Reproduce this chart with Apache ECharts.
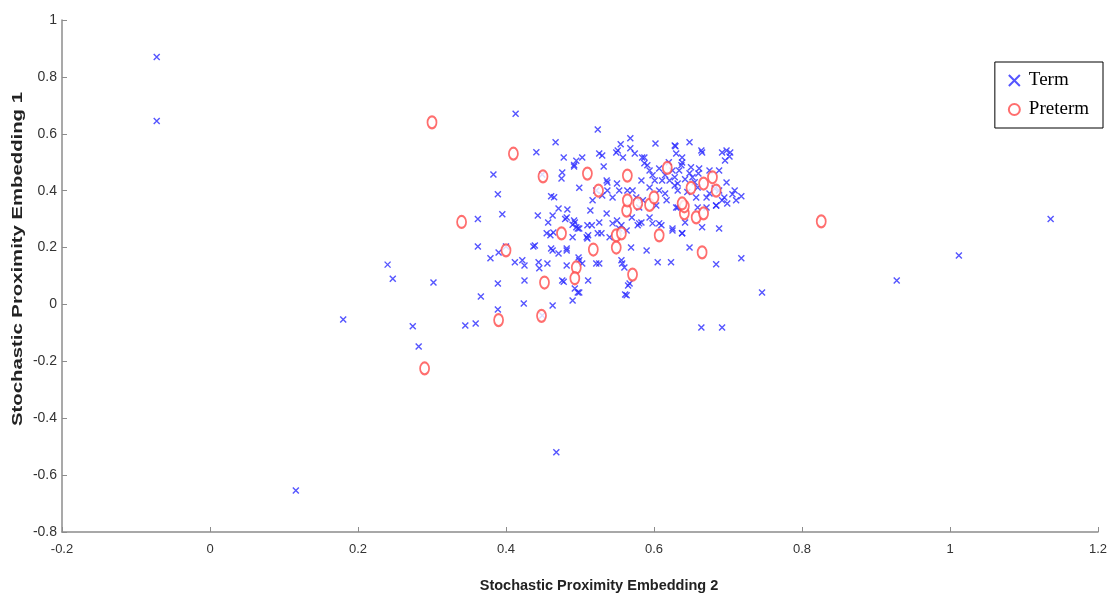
<!DOCTYPE html>
<html>
<head>
<meta charset="utf-8">
<script src="https://cdn.jsdelivr.net/npm/echarts@6/dist/echarts.min.js"></script>
<style>
html,body{margin:0;padding:0;background:#fff;}
#chart{width:1107px;height:593px;}
</style>
</head>
<body>
<div id="chart"></div>
<script>
const xTicks = [-0.2, 0, 0.2, 0.4, 0.6, 0.8, 1, 1.2];
const yTicks = [-0.8, -0.6, -0.4, -0.2, 0, 0.2, 0.4, 0.6, 0.8, 1];
const seriesNames = ['Term', 'Preterm'];
const xAxisTitle = 'Stochastic Proximity Embedding 2';
const yAxisTitle = 'Stochastic Proximity Embedding 1';

const termPoints = [
  [-0.072,0.87],[-0.072,0.645],[0.116,-0.654],[0.18,-0.053],[0.24,0.14],[0.247,0.09],[0.274,-0.077],[0.282,-0.148],
  [0.302,0.077],[0.468,-0.52],[0.928,0.084],[1.012,0.172],[1.136,0.30],[0.746,0.042],[0.664,-0.081],[0.692,-0.081],
  [0.718,0.162],[0.345,-0.074],[0.359,-0.067],[0.362,0.204],[0.366,0.028],[0.389,0.074],[0.389,-0.018],[0.424,0.003],
  [0.413,0.67],[0.467,0.57],[0.441,0.535],[0.478,0.517],[0.383,0.457],[0.389,0.387],[0.362,0.30],[0.395,0.317],
  [0.443,0.313],[0.449,0.457],[0.476,0.464],[0.475,0.443],[0.461,0.38],[0.465,0.377],[0.471,0.337],[0.483,0.334],
  [0.463,0.313],[0.457,0.288],[0.48,0.30],[0.492,0.49],[0.495,0.505],[0.455,0.25],[0.464,0.253],[0.492,0.295],[0.49,0.28],
  [0.40,0.204],[0.39,0.183],[0.379,0.162],[0.412,0.148],[0.422,0.155],[0.425,0.137],[0.437,0.204],[0.444,0.148],
  [0.445,0.127],[0.456,0.144],[0.449,-0.039],[0.463,-0.004],[0.461,0.197],[0.471,0.179],[0.482,0.197],[0.46,0.243],
  [0.476,0.084],[0.478,0.08],[0.482,0.137],[0.49,0.014],[0.497,0.042],[0.493,0.056],[0.503,0.144],[0.511,0.084],
  [0.522,0.144],[0.524,0.25],[0.51,0.232],[0.498,0.165],[0.425,0.084],[0.439,0.207],[0.463,0.19],[0.482,0.19],
  [0.499,0.155],[0.509,0.236],[0.49,0.236],[0.495,0.271],[0.51,0.278],
  [0.499,0.267],[0.511,0.243],[0.526,0.144],[0.499,0.042],[0.556,0.155],[0.557,0.144],[0.569,0.20],[0.565,0.067],
  [0.561,0.035],[0.59,0.19],[0.605,0.148],[0.623,0.148],[0.648,0.20],[0.638,0.25],[0.625,0.267],[0.688,0.267],
  [0.684,0.141],[0.642,0.288],[0.56,0.13],[0.567,0.074],[0.563,0.032],[0.529,0.25],[0.54,0.236],
  [0.524,0.615],[0.568,0.584],[0.492,0.485],[0.503,0.517],[0.526,0.531],[0.532,0.485],[0.555,0.563],[0.549,0.534],
  [0.568,0.549],[0.602,0.566],[0.629,0.556],[0.648,0.57],[0.665,0.534],[0.692,0.534],[0.703,0.534],[0.696,0.506],
  [0.718,0.38],[0.706,0.387],[0.688,0.401],[0.695,0.376],[0.499,0.41],[0.514,0.33],[0.482,0.306],[0.493,0.288],
  [0.497,0.267],[0.516,0.278],[0.526,0.288],[0.536,0.436],[0.537,0.401],[0.55,0.425],[0.564,0.401],[0.576,0.376],
  [0.584,0.517],[0.587,0.496],[0.594,0.471],[0.598,0.454],[0.601,0.436],[0.594,0.411],[0.607,0.401],[0.611,0.436],
  [0.625,0.471],[0.628,0.447],[0.632,0.425],[0.637,0.489],[0.638,0.517],[0.65,0.482],[0.652,0.447],[0.659,0.411],
  [0.671,0.376],[0.682,0.408],[0.684,0.348],[0.659,0.341],[0.63,0.341],[0.617,0.366],[0.58,0.341],[0.57,0.306],
  [0.58,0.285],[0.563,0.26],[0.553,0.267],[0.603,0.348],[0.594,0.306],[0.607,0.285],[0.625,0.26],[0.665,0.271],
  [0.517,0.366],[0.522,0.401],[0.628,0.559],[0.664,0.541],[0.698,0.541],[0.702,0.52],[0.53,0.524],[0.551,0.541],
  [0.558,0.517],[0.574,0.531],[0.587,0.517],[0.591,0.489],[0.607,0.478],[0.63,0.531],[0.638,0.499],[0.634,0.471],
  [0.648,0.461],[0.661,0.478],[0.675,0.471],[0.688,0.471],[0.698,0.429],[0.709,0.401],[0.692,0.366],[0.628,0.418],
  [0.621,0.436],[0.632,0.401],[0.583,0.436],[0.571,0.401],[0.553,0.401],[0.537,0.429],[0.544,0.376],[0.53,0.383],
  [0.585,0.366],[0.657,0.376],[0.675,0.39],[0.711,0.366],[0.671,0.341],[0.536,0.32],[0.544,0.285],[0.55,0.295],
  [0.556,0.278],[0.578,0.278],[0.583,0.288],[0.598,0.285],[0.61,0.278],[0.638,0.25],[0.684,0.348],[0.699,0.355],
  [0.632,0.341],[0.615,0.455],[0.642,0.44],[0.655,0.43],[0.62,0.5],[0.66,0.46],[0.645,0.395],[0.615,0.39]
];

const pretermPoints = [
  [0.30,0.64],[0.41,0.53],[0.45,0.45],[0.34,0.29],[0.40,0.19],[0.475,0.25],[0.452,0.077],[0.448,-0.04],
  [0.39,-0.055],[0.29,-0.225],[0.51,0.46],[0.525,0.40],[0.518,0.193],[0.495,0.13],[0.493,0.092],[0.571,0.105],
  [0.549,0.243],[0.549,0.20],[0.556,0.25],[0.607,0.243],[0.665,0.183],[0.594,0.35],[0.563,0.33],[0.641,0.32],
  [0.641,0.345],[0.657,0.306],[0.667,0.32],[0.564,0.453],[0.618,0.48],[0.65,0.41],[0.667,0.425],[0.679,0.447],
  [0.684,0.40],[0.564,0.366],[0.578,0.355],[0.60,0.376],[0.638,0.355],[0.826,0.292]
];

const chart = echarts.init(document.getElementById('chart'), null, {renderer: 'canvas'});
const axisGray = '#8c8c8c';
const tickFont = "'Liberation Sans Narrow', 'Liberation Sans', Arial, sans-serif";

const option = {
  animation: false,
  backgroundColor: '#ffffff',
  grid: {left: 62, right: 9, top: 20, bottom: 61, containLabel: false, outerBoundsMode: 'none'},
  legend: {
    orient: 'vertical',
    right: 4,
    top: 62,
    padding: [9, 14, 9, 13],
    itemGap: 10,
    itemWidth: 11,
    itemHeight: 11,
    borderColor: '#000',
    borderWidth: 1,
    backgroundColor: '#fff',
    textStyle: {fontFamily: "'Liberation Serif', 'Times New Roman', serif", fontSize: 19, color: '#000', padding: [0, 0, 0, 4]},
    data: seriesNames
  },
  graphic: [{
    type: 'text',
    x: 18,
    y: 259,
    rotation: Math.PI / 2,
    scaleX: 1.45,
    style: {
      text: yAxisTitle,
      fontFamily: "'Liberation Sans', Arial, sans-serif",
      fontWeight: 'bold',
      fontSize: 14,
      fill: '#222',
      align: 'center',
      verticalAlign: 'middle'
    }
  }],
  xAxis: {
    type: 'value',
    min: -0.2, max: 1.2, interval: 0.2,
    name: xAxisTitle,
    nameLocation: 'middle',
    nameGap: 46,
    nameTextStyle: {fontFamily: "'Liberation Sans', Arial, sans-serif", fontWeight: 'bold', fontSize: 14.5, color: '#222', padding: [0, 0, 0, 38]},
    axisLine: {onZero: false, lineStyle: {color: axisGray, width: 1.5}},
    axisTick: {inside: true, length: 5, lineStyle: {color: axisGray}},
    splitLine: {show: false},
    axisLabel: {
      margin: 11, fontFamily: tickFont, fontSize: 13, color: '#333',
      formatter: v => xTicks.find(t => Math.abs(t - v) < 1e-9) !== undefined ? String(+v.toFixed(1)) : ''
    }
  },
  yAxis: {
    type: 'value',
    min: -0.8, max: 1, interval: 0.2,
    axisLine: {onZero: false, lineStyle: {color: axisGray, width: 1.5}},
    axisTick: {inside: true, length: 5, lineStyle: {color: axisGray}},
    splitLine: {show: false},
    axisLabel: {
      margin: 5, fontFamily: tickFont, fontSize: 14, color: '#333',
      formatter: v => yTicks.find(t => Math.abs(t - v) < 1e-9) !== undefined ? String(+v.toFixed(1)) : ''
    }
  },
  series: [
    {
      name: seriesNames[0],
      type: 'scatter',
      data: termPoints,
      symbol: 'path://M0,0L10,10M10,0L0,10',
      symbolSize: 6,
      itemStyle: {color: 'rgba(0,0,0,0)', borderColor: '#2a2aff', borderWidth: 1.4}
    },
    {
      name: seriesNames[1],
      type: 'scatter',
      data: pretermPoints,
      symbol: 'emptyCircle',
      symbolSize: [9, 12],
      itemStyle: {color: '#ff4a4a', borderColor: '#ff4a4a', borderWidth: 1.5}
    }
  ]
};
chart.setOption(option);
</script>
</body>
</html>
